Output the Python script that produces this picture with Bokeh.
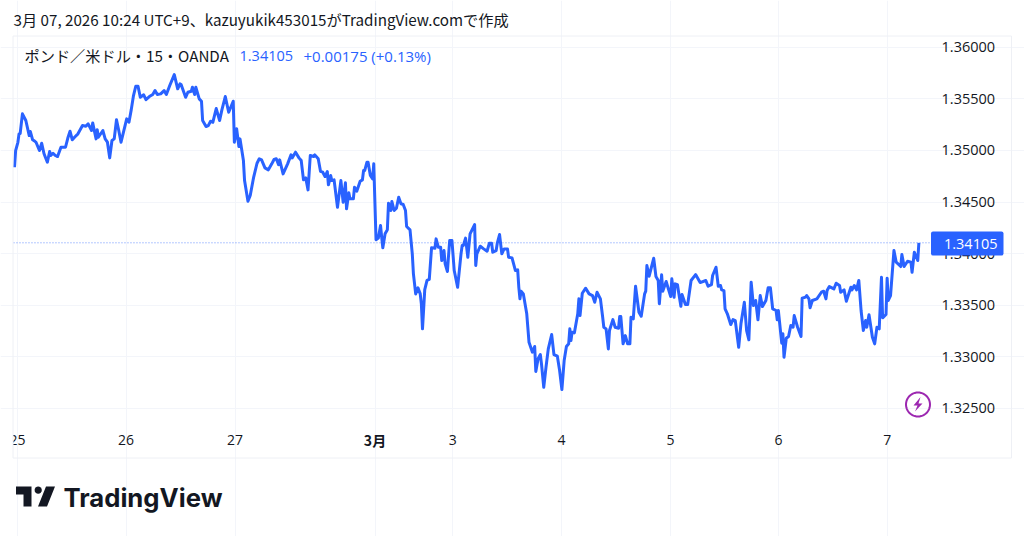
import math
from bokeh.embed import file_html
from bokeh.resources import INLINE
from bokeh.plotting import figure
from bokeh.models import (Label, BoxAnnotation, PolyAnnotation, FixedTicker,
                          PrintfTickFormatter, Range1d)

# 15-minute bar number of each traced point
bars = [
 0,1,3,4,5,7,10,13,14,16,
 18,19,22,24,26,27,29,31,32,34,
 36,38,41,45,47,49,51,53,56,60,
 63,65,68,69,72,73,74,78,80,82,
 84,86,88,90,92,94,96,99,101,103,
 105,107,109,111,114,116,119,122,124,126,
 129,132,134,137,141,144,146,147,151,153,
 156,157,159,160,163,165,166,169,171,173,
 175,178,181,183,186,189,193,194,196,198,
 199,202,203,206,208,211,214,216,218,221,
 224,227,229,231,233,234,237,241,244,245,
 248,251,253,255,257,259,260,261,264,265,
 268,270,272,274,276,277,279,280,282,285,
 288,290,292,293,295,296,299,300,302,305,
 307,308,309,311,312,314,316,317,319,321,
 323,324,325,327,329,330,332,333,335,337,
 339,341,343,345,346,349,351,352,354,356,
 358,359,360,362,364,366,368,371,372,374,
 376,377,379,380,382,383,384,386,388,391,
 394,395,396,398,400,402,406,407,408,411,
 414,417,419,421,422,425,426,428,430,432,
 435,436,439,442,444,445,446,447,449,452,
 454,457,459,460,462,464,465,467,469,471,
 474,476,479,481,483,485,487,489,490,491,
 492,494,497,498,499,501,504,507,510,512,
 514,517,519,520,522,524,525,528,530,533,
 534,535,537,539,541,543,544,546,548,551,
 553,556,557,558,560,564,566,568,569,571,
 572,575,579,580,582,583,585,586,588,589,
 592,594,597,601,605,610,612,615,616,619,
 621,623,624,626,627,629,632,634,636,639,
 641,644,646,648,650,652,654,656,658,660,
 663,665,667,669,672,673,674,677,678,679,
 681,683,685,687,688,691,694,695,698,699,
 701,702,704,708,712,714,716,717,719,723,
 725,728,729,732,734,738,739,741,743,745,
 747,749,751,752,754,757,759,761,763,765,
 766,769,770,771,773,776,778,782,783,785,
 788,791,792,794,797,798,
]
closes = [
 1.34837,1.34999,1.35079,1.35161,1.35164,1.35355,1.3529,1.35144,1.35183,1.35103,
 1.35089,1.35079,1.34999,1.3507,1.3497,1.34941,1.34886,1.3499,1.34951,1.34973,
 1.34951,1.34941,1.35031,1.35031,1.35118,1.35186,1.35103,1.35128,1.35161,1.35241,
 1.35234,1.35258,1.35193,1.35267,1.35112,1.352,1.35128,1.35193,1.35112,1.3508,
 1.34928,1.35096,1.35112,1.35297,1.35193,1.3508,1.35171,1.35306,1.35273,1.35393,
 1.35532,1.35622,1.35622,1.35515,1.35539,1.35493,1.35522,1.35542,1.3558,1.35542,
 1.35548,1.3558,1.35542,1.35629,1.35735,1.35597,1.35645,1.35639,1.35515,1.35564,
 1.35574,1.35612,1.35542,1.35612,1.355,1.35477,1.3529,1.35232,1.35241,1.35283,
 1.35273,1.35406,1.3529,1.35393,1.35522,1.3537,1.35477,1.3508,1.3521,1.35038,
 1.35112,1.34902,1.34708,1.34508,1.34563,1.3474,1.34876,1.34919,1.34909,1.34831,
 1.34812,1.3487,1.34912,1.34919,1.34863,1.34909,1.34773,1.3487,1.34957,1.34928,
 1.34983,1.34928,1.34902,1.34715,1.34734,1.34618,1.34783,1.34951,1.34941,1.34957,
 1.34919,1.34798,1.34789,1.34747,1.34796,1.34667,1.34757,1.34708,1.34715,1.3445,
 1.34708,1.34498,1.34686,1.34434,1.34589,1.34531,1.34531,1.34643,1.34605,1.34702,
 1.34715,1.34805,1.34805,1.34886,1.34886,1.34757,1.34725,1.3487,1.34134,1.3415,
 1.34272,1.3416,1.34056,1.34192,1.34231,1.34488,1.34418,1.34505,1.34418,1.3444,
 1.34546,1.34483,1.34476,1.34418,1.34263,1.34231,1.33998,1.33804,1.3361,1.33669,
 1.3361,1.33514,1.33271,1.33652,1.3374,1.3375,1.34056,1.34052,1.34143,1.34062,
 1.34062,1.33933,1.3403,1.33901,1.33827,1.33982,1.34127,1.34127,1.33836,1.33674,
 1.33998,1.34078,1.34078,1.3415,1.33965,1.34192,1.34282,1.33885,1.33998,1.34072,
 1.34046,1.34023,1.34101,1.34101,1.34014,1.3403,1.34101,1.34185,1.33998,1.34046,
 1.34046,1.33965,1.33959,1.33836,1.33843,1.33674,1.33562,1.33636,1.3361,1.33417,
 1.33141,1.33045,1.331,1.32858,1.32981,1.33022,1.32932,1.32705,1.329,1.33077,
 1.33216,1.33022,1.33006,1.32867,1.32683,1.32964,1.331,1.33126,1.33271,1.33158,
 1.33238,1.33232,1.33417,1.33562,1.334,1.33616,1.33665,1.3361,1.33594,1.33529,
 1.33626,1.33562,1.33384,1.33287,1.33271,1.33077,1.33255,1.33361,1.33287,1.33277,
 1.3339,1.3339,1.33126,1.33206,1.33126,1.33126,1.33384,1.33368,1.33684,1.33432,
 1.33393,1.3361,1.33636,1.33885,1.33781,1.33955,1.33778,1.3374,1.33514,1.33795,
 1.33636,1.3373,1.33584,1.33756,1.33577,1.33707,1.337,1.33626,1.3349,1.33604,
 1.33507,1.33507,1.3374,1.33797,1.3372,1.3374,1.33684,1.337,1.33788,1.33868,
 1.33684,1.33691,1.33649,1.33642,1.33465,1.33417,1.33313,1.33361,1.33351,1.33093,
 1.3332,1.33529,1.33255,1.33165,1.33723,1.33497,1.33546,1.33359,1.33594,1.33487,
 1.33546,1.33669,1.33669,1.33465,1.33449,1.33359,1.33449,1.33132,1.33223,1.32996,
 1.3318,1.33197,1.33303,1.33287,1.334,1.33287,1.33197,1.33568,1.33578,1.33594,
 1.33562,1.33475,1.33546,1.33562,1.33626,1.33636,1.33562,1.33642,1.33681,1.33658,
 1.33713,1.33691,1.33626,1.33649,1.33539,1.33674,1.33649,1.33691,1.33649,1.3374,
 1.33449,1.33255,1.33352,1.33287,1.33407,1.3319,1.33126,1.33287,1.33271,1.33771,
 1.33378,1.3341,1.33762,1.33546,1.33594,1.3403,1.33917,1.33875,1.33991,1.33875,
 1.33926,1.33917,1.3382,1.34014,1.33933,1.34105,
]

day_ticks = [2.6, 98.4, 194.6, 318.5, 386.6, 482.7, 578.9, 674.2, 770.0]
day_labels = ["25", "26", "27", "", "3", "4", "5", "6", "7"]
price_ticks = [1.325, 1.33, 1.335, 1.34, 1.345, 1.35, 1.355, 1.36]
last_price = 1.34105
change = "+0.00175 (+0.13%)"
title = "3月 07, 2026 10:24 UTC+9、kazuyukik453015がTradingView.comで作成"
symbol = "ポンド／米ドル・15・OANDA"

BLUE = "#2962ff"
GRID = "#f3f5fa"
INK = "#131722"
AXF = "Open Sans"
CJK = "Noto Sans CJK JP"

# pane limits in data units; the frame covers the whole canvas so that
# the annotations outside the pane are not clipped
PANE_X = (-0.88, 808.3)
PANE_Y = (1.32373, 1.36104)

p = figure(width=1024, height=536, output_backend="svg", toolbar_location=None,
           y_axis_location="right",
           x_range=Range1d(-12.35, 891.2), y_range=Range1d(1.31259, 1.36453),
           min_border=0)
p.outline_line_color = None
p.background_fill_color = "white"
p.border_fill_color = "white"

p.xgrid.ticker = FixedTicker(ticks=day_ticks)
p.ygrid.ticker = FixedTicker(ticks=price_ticks)
p.xgrid.bounds = PANE_Y
p.ygrid.bounds = PANE_X
p.xgrid.grid_line_color = GRID
p.ygrid.grid_line_color = GRID

ax = p.xaxis[0]
ax.fixed_location = PANE_Y[0]
ax.ticker = FixedTicker(ticks=day_ticks)
ax.major_label_overrides = dict(zip(day_ticks, day_labels))
ax.axis_line_color = None
ax.major_tick_line_color = None
ax.minor_tick_line_color = None
ax.major_tick_out = 0
ax.major_label_standoff = 13
ax.major_label_text_font = AXF
ax.major_label_text_font_size = "14px"
ax.major_label_text_color = INK

ay = p.yaxis[0]
ay.fixed_location = PANE_X[1]
ay.ticker = FixedTicker(ticks=price_ticks)
ay.formatter = PrintfTickFormatter(format="%.5f")
ay.axis_line_color = None
ay.major_tick_line_color = None
ay.minor_tick_line_color = None
ay.major_tick_out = 0
ay.major_label_standoff = 11
ay.major_label_text_font = AXF
ay.major_label_text_font_size = "14.5px"
ay.major_label_text_color = INK

p.line(list(PANE_X), [last_price, last_price], line_color=BLUE,
       line_alpha=0.7, line_width=1, line_dash="1 2")
p.line(bars, closes, line_color=BLUE, line_width=3, line_join="round")


def box(l, r, t, b, **kw):
    a = BoxAnnotation(left=l, right=r, top=t, bottom=b,
                      left_units="canvas", right_units="canvas",
                      top_units="canvas", bottom_units="canvas", **kw)
    p.add_layout(a)
    return a


def text(x, y, s, font=AXF, size="13px", color=INK, style="normal", align="left"):
    p.add_layout(Label(x=x, y=y, x_units="canvas", y_units="canvas", text=s,
                       text_font=font, text_font_size=size, text_color=color,
                       text_font_style=style, text_align=align, text_baseline="middle"))


def poly(pts, **kw):
    p.add_layout(PolyAnnotation(xs=[a for a, _ in pts], ys=[b for _, b in pts],
                                xs_units="canvas", ys_units="canvas", **kw))


# mask for the clipped first tick label, outer frame
box(0, 12.5, 425, 455, fill_color="white", fill_alpha=1, line_color=None)
box(12.5, 1011, 35.5, 457.5, fill_alpha=0, line_color="#eef0f5", line_alpha=1, line_width=1)

# last price tag
box(930.5, 1003, 231, 255, fill_color=BLUE, fill_alpha=1, line_color=None, border_radius=2)
text(997, 243.5, f"{last_price:.5f}", size="14.5px", color="white", align="right")

text(374.5, 439, "3月", font=CJK, size="14px", style="bold", align="center")
text(13, 18.5, title, font=CJK, size="15.2px")
text(24, 54.5, symbol, font=CJK, size="15.2px")
text(239, 55.5, f"{last_price:.5f}", font=AXF, size="14.5px", color=BLUE)
text(303, 55.5, change, font=AXF, size="15px", color=BLUE)

# brand mark and word
poly([(15.5, 486), (31, 486), (31, 506), (23, 506), (23, 494), (15.5, 494)],
     fill_color="#131722", fill_alpha=1, line_color=None)
poly([(45.5, 486), (54.5, 486), (46.5, 506), (37.5, 506)],
     fill_color="#131722", fill_alpha=1, line_color=None)
poly([(37.7 + 3.6 * math.cos(t / 8 * math.pi), 489.6 + 3.6 * math.sin(t / 8 * math.pi)) for t in range(16)],
     fill_color="#131722", fill_alpha=1, line_color=None)
text(63, 497, "TradingView", font="Inter", size="25.7px", style="bold")

# lightning badge
poly([(917.5 + 12 * math.cos(t / 24 * math.pi), 404 + 12 * math.sin(t / 24 * math.pi)) for t in range(48)],
     fill_alpha=0, line_color="#9c27b0", line_alpha=1, line_width=2)
poly([(920, 396.5), (913, 405), (917, 405), (914.5, 411), (922, 403), (918, 403)],
     fill_color="#9c27b0", fill_alpha=1, line_color=None)

open("out.html", "w").write(file_html(p, INLINE))
